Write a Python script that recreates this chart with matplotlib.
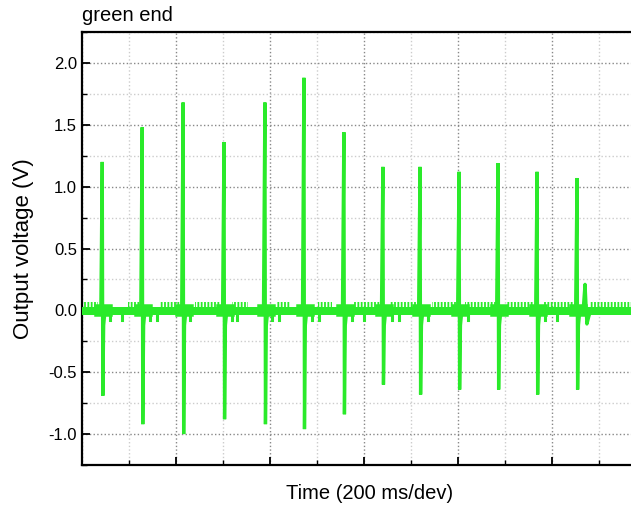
import numpy as np
import matplotlib
matplotlib.use("Agg")
import matplotlib.pyplot as plt
from matplotlib.ticker import MultipleLocator

plt.rcParams['font.family'] = ['Liberation Sans', 'DejaVu Sans']
plt.rcParams['hatch.linewidth'] = 1.3

# time axis in divisions (200 ms / div), voltages in V
spike_t = [0.43, 1.28, 2.15, 3.02, 3.89, 4.72, 5.57, 6.40, 7.19, 8.02, 8.85, 9.68, 10.53]
spike_top = [1.20, 1.48, 1.68, 1.36, 1.68, 1.88, 1.44, 1.16, 1.16, 1.12, 1.19, 1.12, 1.07]
spike_bottom = [-0.69, -0.92, -1.00, -0.88, -0.92, -0.96, -0.84, -0.60, -0.68, -0.64, -0.64, -0.68, -0.64]

# small glitch near the end
bump_t = [10.66, 10.70, 10.74, 10.78, 10.82]
bump_v = [0.0, 0.21, -0.11, -0.05, 0.0]

# intervals with ripple pulses on the baseline
ripple_start = [0.02, 0.98, 1.66, 2.40, 3.19, 4.15, 5.02, 5.77, 6.55, 7.45, 8.15, 8.68, 9.04, 9.81, 10.81]
ripple_end = [0.34, 1.23, 2.09, 2.94, 3.53, 4.43, 5.32, 6.34, 7.13, 7.98, 8.68, 8.83, 9.60, 10.45, 12.0]

# small negative dips after spikes
dip_t = [0.60, 0.85, 1.45, 1.60, 2.30, 3.18, 3.30, 4.05, 4.20, 4.90, 5.05, 5.75, 6.00, 6.60, 6.75, 7.35, 8.20, 9.85, 10.10]

green = '#2aea2a'

fig = plt.figure(figsize=(6.31, 5.05), dpi=100)
ax = fig.add_axes([0.130, 0.0792, 0.894, 0.8574])

# baseline band
ax.fill_between([0, 12], -0.04, 0.03, color=green, lw=0, zorder=3)
for s, e in zip(ripple_start, ripple_end):
    ax.fill_between([s, e], 0.02, 0.065, facecolor='none', edgecolor=green,
                    hatch='|||||', lw=0, zorder=3)
for d in dip_t:
    ax.plot([d, d], [0, -0.08], color=green, lw=2.2, zorder=3)

# spikes
for t, top, bot in zip(spike_t, spike_top, spike_bottom):
    ax.plot([t - 0.03, t, t + 0.012, t + 0.03, t + 0.06], [0, top, bot, -0.12, 0],
            color=green, lw=2.4, zorder=4, solid_joinstyle='miter')
    ax.plot([t - 0.05, t + 0.09], [0, 0], color=green, lw=9, zorder=3)
ax.plot(bump_t, bump_v, color=green, lw=2.4, zorder=4)

ax.set_xlim(0, 12)
ax.set_ylim(-1.25, 2.25)
ax.xaxis.set_major_locator(MultipleLocator(2))
ax.xaxis.set_minor_locator(MultipleLocator(1))
ax.yaxis.set_major_locator(MultipleLocator(0.5))
ax.yaxis.set_minor_locator(MultipleLocator(0.25))
ax.set_xticklabels([])
ax.yaxis.set_major_formatter(matplotlib.ticker.FormatStrFormatter('%.1f'))
ax.tick_params(which='both', direction='in', top=False, right=False)
ax.tick_params(which='major', length=6, width=1.3, labelsize=12)
ax.tick_params(which='minor', length=3.5, width=1.0)

ax.grid(which='major', ls=':', color='#888888', lw=1.0)
ax.grid(which='minor', ls=':', color='#cccccc', lw=1.0)
ax.set_axisbelow(True)

for side in ['left', 'bottom', 'top']:
    ax.spines[side].set_linewidth(1.6)
ax.spines['right'].set_visible(False)

ax.set_ylabel('Output voltage (V)', fontsize=16)
ax.yaxis.set_label_coords(-0.086, 0.5)
ax.set_xlabel('Time (200 ms/dev)', fontsize=14.5)
ax.xaxis.set_label_coords(0.51, -0.043)
ax.set_title('green end', loc='left', fontsize=14.5, pad=8)

fig.savefig('out.png', dpi=100)
